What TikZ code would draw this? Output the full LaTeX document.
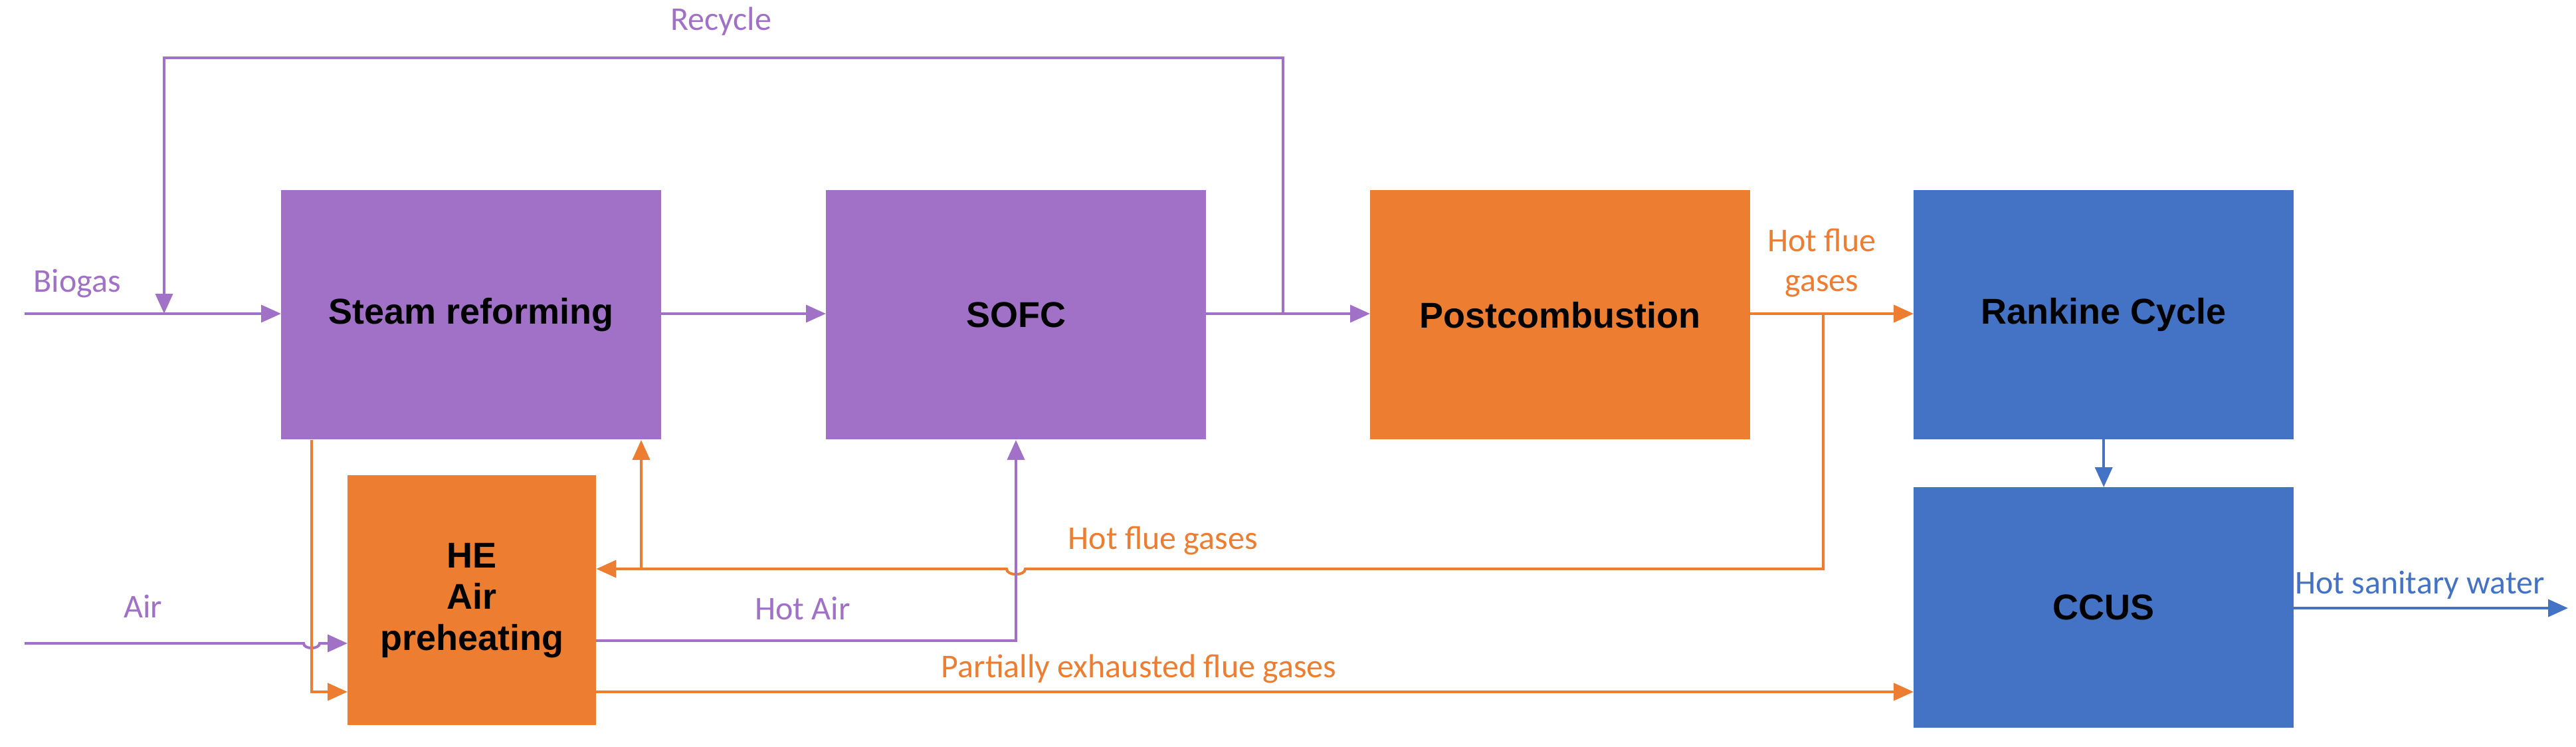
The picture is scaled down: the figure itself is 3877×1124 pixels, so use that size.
\documentclass[tikz,border=0pt]{standalone}
\usepackage{fontspec}
\setmainfont{Liberation Sans}
\newfontfamily\lab{Carlito}
\usetikzlibrary{arrows.meta}
\definecolor{pur}{HTML}{A071C7}
\definecolor{ora}{HTML}{ED7D31}
\definecolor{blu}{HTML}{4472C4}
\begin{document}
\begin{tikzpicture}[x=1pt,y=-1pt,
 box/.style={draw=none,minimum width=572pt,minimum height=375pt,inner sep=0pt,font=\fontsize{54}{62}\selectfont\bfseries,align=center},
 lp/.style={pur,line width=4pt},
 lo/.style={ora,line width=4pt},
 lb/.style={blu,line width=4pt},
 arr/.style={-{Triangle[length=30pt,width=26pt]}},
 lbl/.style={font=\lab\fontsize{50}{60}\selectfont,inner sep=0pt}]
\useasboundingbox (0,0) rectangle (3877,1124);
\node[box,fill=pur,anchor=north west] (sr) at (423,286) {Steam reforming};
\node[box,fill=pur,anchor=north west] (sofc) at (1243,286) {SOFC};
\node[box,fill=ora,anchor=north west] (pc) at (2062,286) {Postcombustion};
\node[box,fill=blu,anchor=north west] (rk) at (2880,286) {Rankine Cycle};
\node[box,fill=blu,anchor=north west,minimum height=362pt] (cc) at (2880,733) {CCUS};
\node[box,fill=ora,anchor=north west,minimum width=374pt,minimum height=376pt] (he) at (523,715) {HE\\Air\\preheating};
\coordinate (bin) at (37,472);
\coordinate (rj) at (247,472);
\coordinate (rs) at (1931,472);
\coordinate (hj) at (2744,472);
\coordinate (ain) at (37,968);
\coordinate (hw) at (3865,915);
% main line
\draw[lp,arr] (bin) -- (sr.west|-bin);
\draw[lp,arr] (sr.east|-bin) -- (sofc.west|-bin);
\draw[lp,arr] (sofc.east|-bin) -- (pc.west|-bin);
\draw[lp,arr] (rs) -- (1931,87) -- (247,87) -- (rj);
\draw[lo,arr] (pc.east|-hj) -- (rk.west|-hj);
\draw[lb,arr] (rk.south) -- (cc.north);
\draw[lb,arr] (cc.east|-hw) -- (hw);
% hot flue gases return
\draw[lo,arr] (hj) -- (2744,856) -- (1543,856) to[out=-90,in=-90] (1515,856) -- (he.east|-0,856);
\draw[lo,arr] (965,856) -- (965,662);
% hot air
\draw[lp,arr] (he.east|-0,964) -- (1529,964) -- (1529,662);
% air in
\draw[lp,arr] (ain) -- (457,968) to[out=-90,in=-90] (481,968) -- (he.west|-ain);
% steam reformer to HE
\draw[lo,arr] (469,662) -- (469,1041) -- (he.west|-0,1041);
\draw[lo,arr] (he.east|-0,1041) -- (cc.west|-0,1041);
% labels
\node[lbl,pur] at (1085,32) {Recycle};
\node[lbl,pur] at (116,427) {Biogas};
\node[lbl,pur] at (215,912) {Air};
\node[lbl,pur] at (1208,915) {Hot Air};
\node[lbl,ora] at (1750,814) {Hot flue gases};
\node[lbl,ora] at (1714,1006) {Partially exhausted flue gases};
\node[lbl,ora,align=center] at (2742,396) {Hot flue\\gases};
\node[lbl,blu] at (3642,880) {Hot sanitary water};
\end{tikzpicture}
\end{document}
